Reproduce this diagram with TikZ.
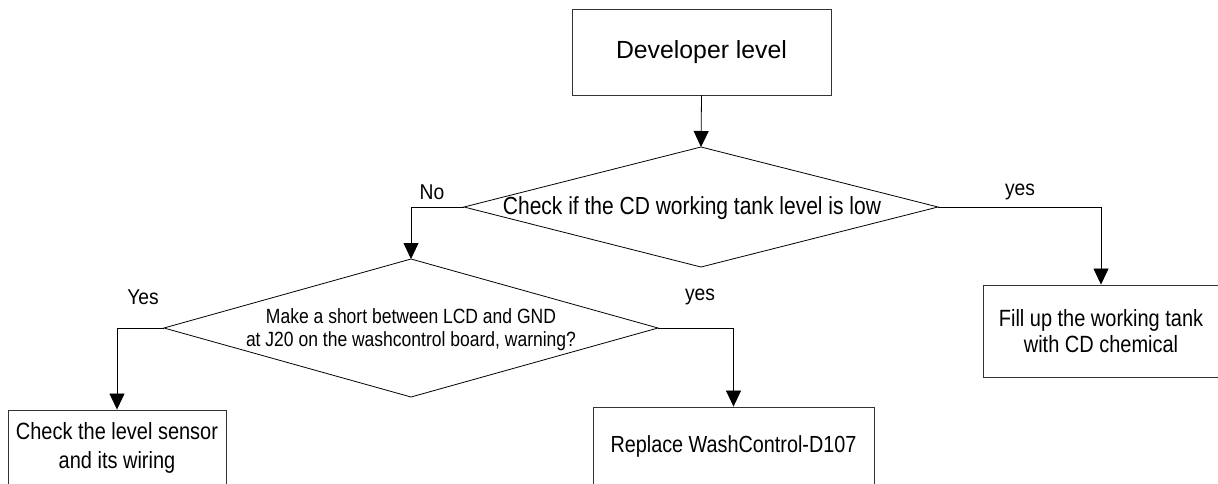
\documentclass[tikz,border=0pt]{standalone}
\usepackage{fontspec}
\setmainfont{Liberation Sans}
\newfontfamily\narfont[FakeStretch=0.85]{Liberation Sans}
\newfontfamily\lblfont[FakeStretch=0.9]{Liberation Sans}
\usetikzlibrary{arrows.meta}
\begin{document}
\begin{tikzpicture}[x=1pt,y=-1pt,
  box/.style={draw=black!80,line width=0.9pt,inner sep=0pt,align=center},
  dia/.style={draw=black,line width=0.8pt},
  txt/.style={inner sep=0pt,align=center},
  lbl/.style={inner sep=0pt,font=\lblfont\fontsize{21.4}{24}\selectfont},
  arr/.style={draw=black,line width=0.8pt,-{Triangle[length=16pt,width=15pt]}}
]
\useasboundingbox (0,0) rectangle (1218,483);
% top box
\node[box,minimum width=259pt,minimum height=86pt,font=\fontsize{24.8}{28}\selectfont] (dev) at (701.5,52) {Developer level};
% diamond 1
\draw[dia] (701,147) coordinate (d1n) -- (938,207) coordinate (d1e) -- (701,267) coordinate (d1s) -- (464,207) coordinate (d1w) -- cycle;
\node[txt,font=\narfont\fontsize{24.7}{28}\selectfont] (d1t) at (692,208) {Check if the CD working tank level is low};
% diamond 2
\draw[dia] (411,259) coordinate (d2n) -- (658,328) coordinate (d2e) -- (411,397) coordinate (d2s) -- (164,328) coordinate (d2w) -- cycle;
\node[txt,font=\narfont\fontsize{20.6}{23}\selectfont] (d2t) at (411,330) {Make a short between LCD and GND\\at J20 on the washcontrol board, warning?};
% boxes
\node[box,minimum width=236pt,minimum height=92pt,font=\narfont\fontsize{23.5}{26}\selectfont] (fill) at (1101,331) {Fill up the working tank\\with CD chemical};
\node[box,minimum width=218pt,minimum height=75pt,font=\narfont\fontsize{23.5}{29}\selectfont] (chk) at (117,447.5) {Check the level sensor\\and its wiring};
\node[box,minimum width=281pt,minimum height=78pt,font=\narfont\fontsize{23.3}{26}\selectfont] (rep) at (733.5,446) {Replace WashControl-D107};
% connectors
\draw[arr] (dev.south) -- (d1n);
\draw[arr] (d1w) -| (d2n);
\draw[arr] (d1e) -| (fill.north);
\draw[arr] (d2w) -| (chk.north);
\draw[arr] (d2e) -| (rep.north);
% labels
\node[lbl] (lno) at (432,192) {No};
\node[lbl] (lyes1) at (1020,192) {yes};
\node[lbl] (lyes2) at (143,297) {Yes};
\node[lbl] (lyes3) at (700,297) {yes};
\end{tikzpicture}
\end{document}
